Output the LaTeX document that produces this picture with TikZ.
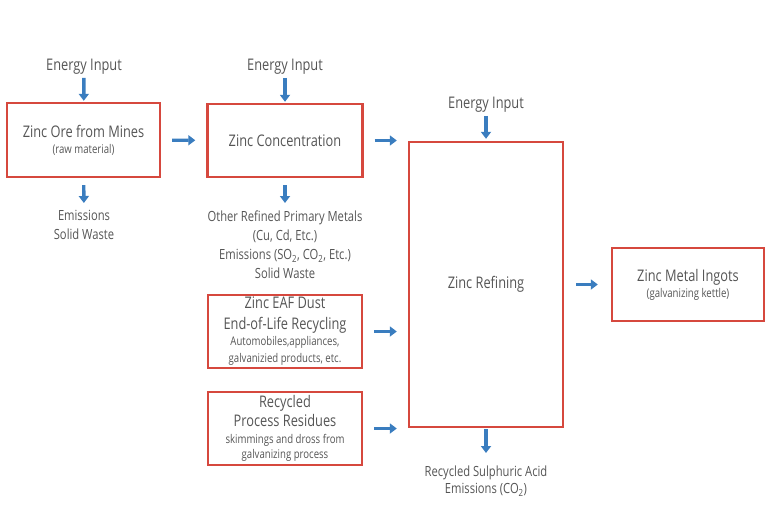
\documentclass[tikz,border=0pt]{standalone}
\usepackage{fontspec}
\setmainfont{Open Sans}[FakeStretch=0.8]
\usetikzlibrary{arrows.meta}
\definecolor{boxred}{RGB}{214,72,62}
\definecolor{flowblue}{RGB}{58,125,191}
\definecolor{txtgray}{RGB}{85,85,85}
\newcommand{\fbig}{\fontsize{16}{21}\selectfont}
\newcommand{\fmid}{\fontsize{14}{19}\selectfont}
\newcommand{\fsmall}{\fontsize{12}{16}\selectfont}
\tikzset{
	box/.style={draw=boxred, line width=2.4pt, align=center, inner sep=0pt, font=\fbig},
	note/.style={align=center, inner sep=1pt, font=\fmid},
	flow/.style={draw=flowblue, line width=3.4pt, -{Triangle[length=7pt,width=10pt]}}
}

\begin{document}
\begin{tikzpicture}[x=1pt, y=-1pt, every node/.style={text=txtgray}]
	\useasboundingbox (0,0) rectangle (775,517);
	% process boxes
	\node[box, minimum width=153pt, minimum height=74pt] (ore) at (83.5,140) {Zinc Ore from Mines\\[-5pt] {\fsmall (raw material)}};
	\node[box, minimum width=155pt, minimum height=73pt] (conc) at (285,140.5) {Zinc Concentration};
	\node[box, minimum width=154pt, minimum height=285pt] (ref) at (486,284.5) {Zinc Refining};
	\node[box, minimum width=154pt, minimum height=73pt] (eaf) at (285,331.5) {Zinc EAF Dust\\ End-of-Life Recycling\\[-5pt] {\fsmall Automobiles,appliances,}\\[-4pt] {\fsmall galvanizied products, etc.}};
	\node[box, minimum width=154pt, minimum height=73pt] (res) at (285,428.5) {Recycled\\[-2pt] Process Residues\\[-4pt] {\fsmall skimmings and dross from}\\[-6pt] {\fsmall galvanizing process}};
	\node[box, minimum width=152pt, minimum height=73pt] (ingot) at (688,284.5) {Zinc Metal Ingots\\[-5pt] {\fsmall (galvanizing kettle)}};
	% inputs and outputs
	\node[font=\fbig, inner sep=0pt] (ein1) at (84,67) {Energy Input};
	\node[font=\fbig, inner sep=0pt] (ein2) at (285,67) {Energy Input};
	\node[font=\fbig, inner sep=0pt] (ein3) at (486,105) {Energy Input};
	\node[note, anchor=north] (out1) at (84,209) {Emissions\\Solid Waste};
	\node[note, anchor=north] (out2) at (285,210) {Other Refined Primary Metals\\(Cu, Cd, Etc.)\\Emissions (SO\textsubscript{2}, CO\textsubscript{2}, Etc.)\\Solid Waste};
	\node[note, anchor=north] (out3) at (486,465) {Recycled Sulphuric Acid\\[-2pt] Emissions (CO\textsubscript{2})};
	% arrows
	\draw[flow, shorten <=3pt, shorten >=1pt] (ein1) -- (ore);
	\draw[flow, shorten <=3pt, shorten >=1pt] (ein2) -- (conc);
	\draw[flow, shorten <=3pt, shorten >=2pt] (ein3) -- (ref);
	\draw[flow, shorten <=7pt, shorten >=6pt] (ore) -- (out1);
	\draw[flow, shorten <=7pt, shorten >=7pt] (conc) -- (out2);
	\draw[flow, shorten <=1pt, shorten >=12pt] (ref) -- (out3);
	\draw[flow, shorten <=11pt, shorten >=11pt] (ore) -- (conc);
	\draw[flow, shorten <=11pt, shorten >=11pt] (conc.east) -- (conc.east -| ref.west);
	\draw[flow, shorten <=11pt, shorten >=11pt] (eaf.east) -- (eaf.east -| ref.west);
	\draw[flow, shorten <=11pt, shorten >=11pt] (res.east) -- (res.east -| ref.west);
	\draw[flow, shorten <=12pt, shorten >=13pt] (ref) -- (ingot);
\end{tikzpicture}
\end{document}
